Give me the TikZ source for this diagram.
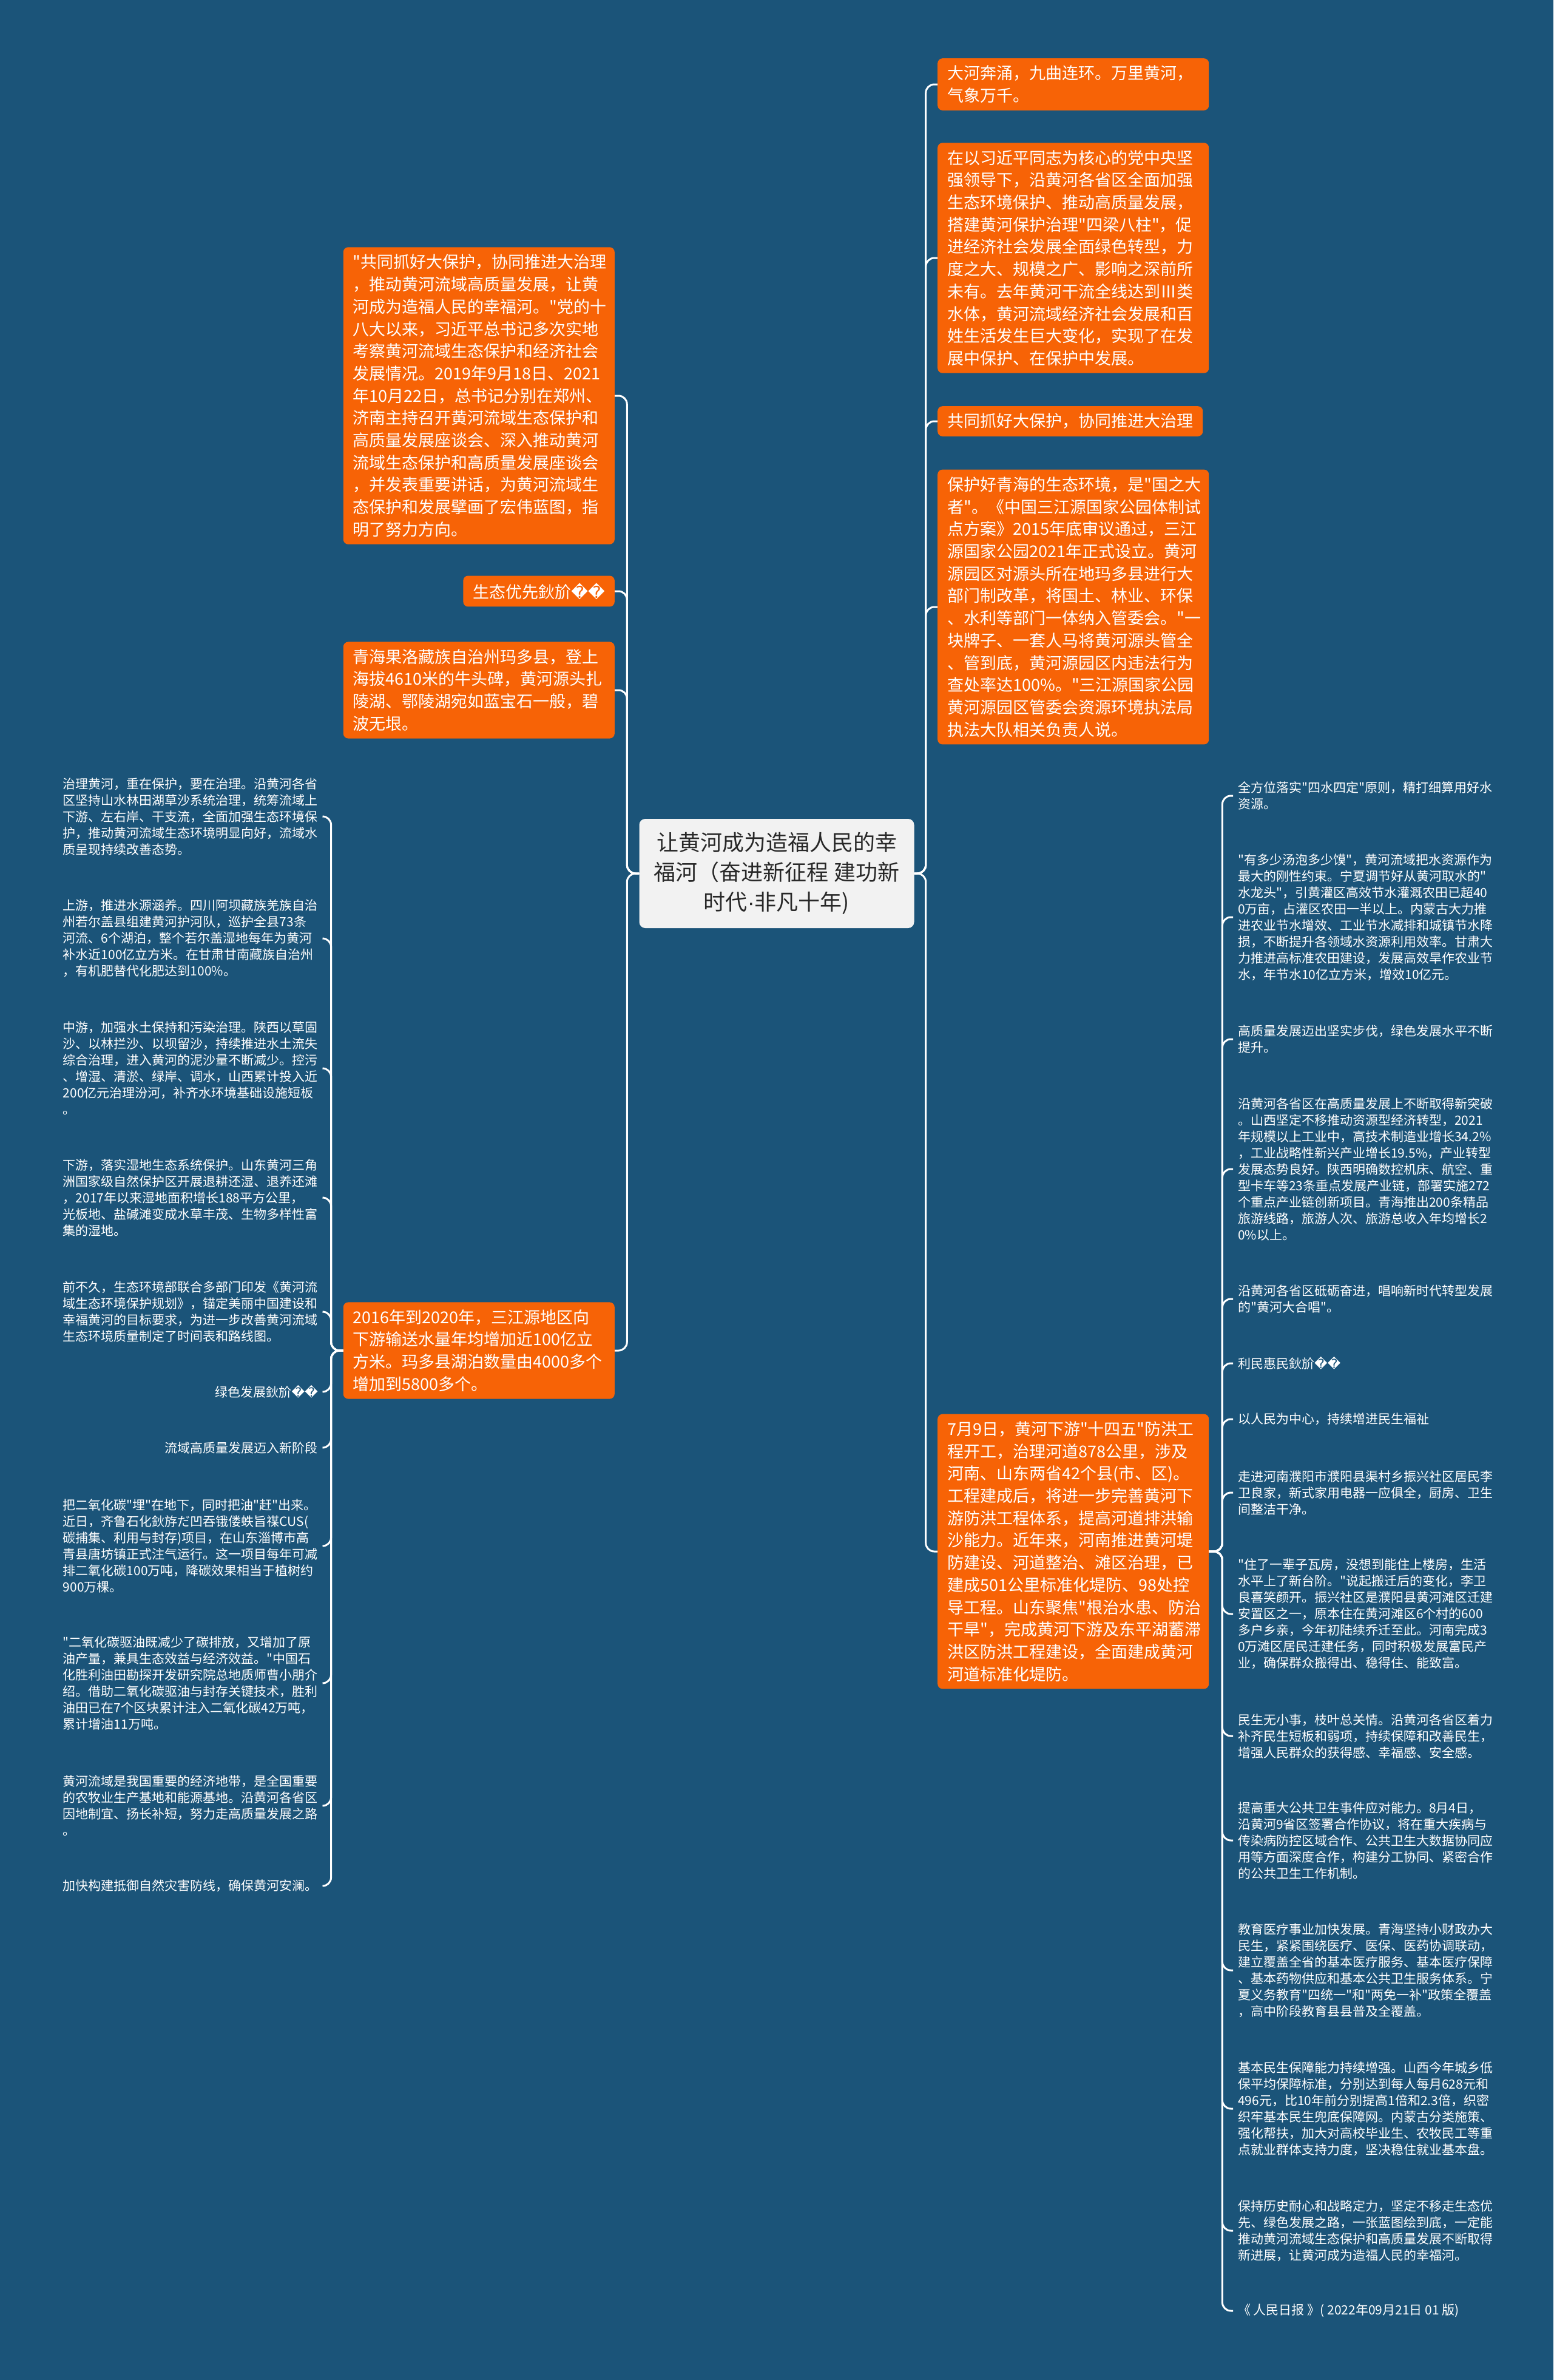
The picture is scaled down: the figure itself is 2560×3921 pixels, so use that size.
\documentclass[tikz,border=0pt]{standalone}
\usepackage{fontspec}
\setmainfont{Noto Sans CJK SC}[Ligatures=TeXOff]
\newfontfamily\dvsymfont{DejaVu Sans}
\newfontfamily\latfont{Liberation Sans}
\newcommand\rpc{{\dvsymfont\char"FFFD}}
\newcommand\mdot{{\latfont\char"00B7}}
\definecolor{bgc}{RGB}{27,84,121}
\definecolor{orc}{RGB}{247,99,6}
\definecolor{cenc}{RGB}{242,242,242}
\definecolor{centext}{RGB}{40,40,40}
\tikzset{
  obox/.style={fill=orc, rounded corners=8, text=white, font=\fontsize{27pt}{36.7pt}\selectfont, inner xsep=16, inner ysep=12, align=left},
  wbox/.style={obox, text width=415},
  cbox/.style={fill=cenc, rounded corners=10, text=centext, font=\fontsize{36pt}{49pt}\selectfont, align=center, minimum width=453, minimum height=180, inner sep=10},
  leaf/.style={text=white, font=\fontsize{21pt}{27pt}\selectfont, align=left, inner xsep=8, inner ysep=3},
  rleaf/.style={leaf, anchor=west},
  lleaf/.style={leaf, anchor=east},
  conn/.style={draw=white, line width=3, rounded corners=14}
}
\begin{document}
\begin{tikzpicture}[x=1pt,y=-1pt]
\fill[bgc] (0,0) rectangle (2560,3921);
\useasboundingbox (0,0) rectangle (2560,3921);

% center
\node[cbox] (C) at (1280,1439) {让黄河成为造福人民的幸\\福河（奋进新征程 建功新\\时代\mdot 非凡十年)};

% right main boxes
\node[wbox, anchor=west] (R1) at (1545,139) {大河奔涌，九曲连环。万里黄河，\\气象万千。};
\node[wbox, anchor=west] (R2) at (1545,425) {在以习近平同志为核心的党中央坚\\强领导下，沿黄河各省区全面加强\\生态环境保护、推动高质量发展，\\搭建黄河保护治理"四梁八柱"，促\\进经济社会发展全面绿色转型，力\\度之大、规模之广、影响之深前所\\未有。去年黄河干流全线达到Ⅲ类\\水体，黄河流域经济社会发展和百\\姓生活发生巨大变化，实现了在发\\展中保护、在保护中发展。};
\node[obox, anchor=west] (R3) at (1545,694) {共同抓好大保护，协同推进大治理};
\node[wbox, anchor=west] (R4) at (1545,1000) {保护好青海的生态环境，是"国之大\\者"。《中国三江源国家公园体制试\\点方案》2015年底审议通过，三江\\源国家公园2021年正式设立。黄河\\源园区对源头所在地玛多县进行大\\部门制改革，将国土、林业、环保\\、水利等部门一体纳入管委会。"一\\块牌子、一套人马将黄河源头管全\\、管到底，黄河源园区内违法行为\\查处率达100\%。"三江源国家公园\\黄河源园区管委会资源环境执法局\\执法大队相关负责人说。};
\node[wbox, anchor=west] (R5) at (1545,2556) {7月9日，黄河下游"十四五"防洪工\\程开工，治理河道878公里，涉及\\河南、山东两省42个县(市、区)。\\工程建成后，将进一步完善黄河下\\游防洪工程体系，提高河道排洪输\\沙能力。近年来，河南推进黄河堤\\防建设、河道整治、滩区治理，已\\建成501公里标准化堤防、98处控\\导工程。山东聚焦"根治水患、防治\\干旱"，完成黄河下游及东平湖蓄滞\\洪区防洪工程建设，全面建成黄河\\河道标准化堤防。};

% left main boxes
\node[wbox, anchor=east] (L1) at (1013,652) {"共同抓好大保护，协同推进大治理\\，推动黄河流域高质量发展，让黄\\河成为造福人民的幸福河。"党的十\\八大以来，习近平总书记多次实地\\考察黄河流域生态保护和经济社会\\发展情况。2019年9月18日、2021\\年10月22日，总书记分别在郑州、\\济南主持召开黄河流域生态保护和\\高质量发展座谈会、深入推动黄河\\流域生态保护和高质量发展座谈会\\，并发表重要讲话，为黄河流域生\\态保护和发展擘画了宏伟蓝图，指\\明了努力方向。};
\node[obox, anchor=east] (L2) at (1013,974) {生态优先鈥斺\rpc\rpc};
\node[wbox, anchor=east] (L3) at (1013,1137) {青海果洛藏族自治州玛多县，登上\\海拔4610米的牛头碑，黄河源头扎\\陵湖、鄂陵湖宛如蓝宝石一般，碧\\波无垠。};
\node[wbox, anchor=east] (L4) at (1013,2225) {2016年到2020年，三江源地区向\\下游输送水量年均增加近100亿立\\方米。玛多县湖泊数量由4000多个\\增加到5800多个。};

% left leaves
\node[lleaf] (a1) at (532,1345) {治理黄河，重在保护，要在治理。沿黄河各省\\区坚持山水林田湖草沙系统治理，统筹流域上\\下游、左右岸、干支流，全面加强生态环境保\\护，推动黄河流域生态环境明显向好，流域水\\质呈现持续改善态势。};
\node[lleaf] (a2) at (532,1546) {上游，推进水源涵养。四川阿坝藏族羌族自治\\州若尔盖县组建黄河护河队，巡护全县73条\\河流、6个湖泊，整个若尔盖湿地每年为黄河\\补水近100亿立方米。在甘肃甘南藏族自治州\\，有机肥替代化肥达到100\%。};
\node[lleaf] (a3) at (532,1760) {中游，加强水土保持和污染治理。陕西以草固\\沙、以林拦沙、以坝留沙，持续推进水土流失\\综合治理，进入黄河的泥沙量不断减少。控污\\、增湿、清淤、绿岸、调水，山西累计投入近\\200亿元治理汾河，补齐水环境基础设施短板\\。};
\node[lleaf] (a4) at (532,1973) {下游，落实湿地生态系统保护。山东黄河三角\\洲国家级自然保护区开展退耕还湿、退养还滩\\，2017年以来湿地面积增长188平方公里，\\光板地、盐碱滩变成水草丰茂、生物多样性富\\集的湿地。};
\node[lleaf] (a5) at (532,2161) {前不久，生态环境部联合多部门印发《黄河流\\域生态环境保护规划》，锚定美丽中国建设和\\幸福黄河的目标要求，为进一步改善黄河流域\\生态环境质量制定了时间表和路线图。};
\node[lleaf] (a6) at (532,2293) {绿色发展鈥斺\rpc\rpc};
\node[lleaf] (a7) at (532,2385) {流域高质量发展迈入新阶段};
\node[lleaf] (a8) at (532,2547) {把二氧化碳"埋"在地下，同时把油"赶"出来。\\近日，齐鲁石化鈥斿だ凹吞锇偻蛈旨禖CUS(\\碳捕集、利用与封存)项目，在山东淄博市高\\青县唐坊镇正式注气运行。这一项目每年可减\\排二氧化碳100万吨，降碳效果相当于植树约\\900万棵。};
\node[lleaf] (a9) at (532,2773) {"二氧化碳驱油既减少了碳排放，又增加了原\\油产量，兼具生态效益与经济效益。"中国石\\化胜利油田勘探开发研究院总地质师曹小朋介\\绍。借助二氧化碳驱油与封存关键技术，胜利\\油田已在7个区块累计注入二氧化碳42万吨，\\累计增油11万吨。};
\node[lleaf] (a10) at (532,2975) {黄河流域是我国重要的经济地带，是全国重要\\的农牧业生产基地和能源基地。沿黄河各省区\\因地制宜、扬长补短，努力走高质量发展之路\\。};
\node[lleaf] (a11) at (532,3107) {加快构建抵御自然灾害防线，确保黄河安澜。};

% right leaves
\node[rleaf] (b1) at (2032,1311) {全方位落实"四水四定"原则，精打细算用好水\\资源。};
\node[rleaf] (b2) at (2032,1511) {"有多少汤泡多少馍"，黄河流域把水资源作为\\最大的刚性约束。宁夏调节好从黄河取水的"\\水龙头"，引黄灌区高效节水灌溉农田已超40\\0万亩，占灌区农田一半以上。内蒙古大力推\\进农业节水增效、工业节水减排和城镇节水降\\损，不断提升各领域水资源利用效率。甘肃大\\力推进高标准农田建设，发展高效旱作农业节\\水，年节水10亿立方米，增效10亿元。};
\node[rleaf] (b3) at (2032,1712) {高质量发展迈出坚实步伐，绿色发展水平不断\\提升。};
\node[rleaf] (b4) at (2032,1926) {沿黄河各省区在高质量发展上不断取得新突破\\。山西坚定不移推动资源型经济转型，2021\\年规模以上工业中，高技术制造业增长34.2\%\\，工业战略性新兴产业增长19.5\%，产业转型\\发展态势良好。陕西明确数控机床、航空、重\\型卡车等23条重点发展产业链，部署实施272\\个重点产业链创新项目。青海推出200条精品\\旅游线路，旅游人次、旅游总收入年均增长2\\0\%以上。};
\node[rleaf] (b5) at (2032,2140) {沿黄河各省区砥砺奋进，唱响新时代转型发展\\的"黄河大合唱"。};
\node[rleaf] (b6) at (2032,2246) {利民惠民鈥斺\rpc\rpc};
\node[rleaf] (b7) at (2032,2338) {以人民为中心，持续增进民生福祉};
\node[rleaf] (b8) at (2032,2459) {走进河南濮阳市濮阳县渠村乡振兴社区居民李\\卫良家，新式家用电器一应俱全，厨房、卫生\\间整洁干净。};
\node[rleaf] (b9) at (2032,2659) {"住了一辈子瓦房，没想到能住上楼房，生活\\水平上了新台阶。"说起搬迁后的变化，李卫\\良喜笑颜开。振兴社区是濮阳县黄河滩区迁建\\安置区之一，原本住在黄河滩区6个村的600\\多户乡亲，今年初陆续乔迁至此。河南完成3\\0万滩区居民迁建任务，同时积极发展富民产\\业，确保群众搬得出、稳得住、能致富。};
\node[rleaf] (b10) at (2032,2860) {民生无小事，枝叶总关情。沿黄河各省区着力\\补齐民生短板和弱项，持续保障和改善民生，\\增强人民群众的获得感、幸福感、安全感。};
\node[rleaf] (b11) at (2032,3032) {提高重大公共卫生事件应对能力。8月4日，\\沿黄河9省区签署合作协议，将在重大疾病与\\传染病防控区域合作、公共卫生大数据协同应\\用等方面深度合作，构建分工协同、紧密合作\\的公共卫生工作机制。};
\node[rleaf] (b12) at (2032,3246) {教育医疗事业加快发展。青海坚持小财政办大\\民生，紧紧围绕医疗、医保、医药协调联动，\\建立覆盖全省的基本医疗服务、基本医疗保障\\、基本药物供应和基本公共卫生服务体系。宁\\夏义务教育"四统一"和"两免一补"政策全覆盖\\，高中阶段教育县县普及全覆盖。};
\node[rleaf] (b13) at (2032,3474) {基本民生保障能力持续增强。山西今年城乡低\\保平均保障标准，分别达到每人每月628元和\\496元，比10年前分别提高1倍和2.3倍，织密\\织牢基本民生兜底保障网。内蒙古分类施策、\\强化帮扶，加大对高校毕业生、农牧民工等重\\点就业群体支持力度，坚决稳住就业基本盘。};
\node[rleaf] (b14) at (2032,3675) {保持历史耐心和战略定力，坚定不移走生态优\\先、绿色发展之路，一张蓝图绘到底，一定能\\推动黄河流域生态保护和高质量发展不断取得\\新进展，让黄河成为造福人民的幸福河。};
\node[rleaf] (b15) at (2032,3807) {《 人民日报 》( 2022年09月21日 01 版)};

% connectors: center to main boxes
\foreach \n in {R1,R2,R3,R4,R5}
  \draw[conn] (C.east) -- ++(19,0) |- (\n.west);
\foreach \n in {L1,L2,L3,L4}
  \draw[conn] (C.west) -- ++(-20,0) |- (\n.east);
% R5 to right leaves
\foreach \n in {b1,b2,b3,b4,b5,b6,b7,b8,b9,b10,b11,b12,b13,b14,b15}
  \draw[conn] (R5.east) -- ++(22,0) |- (\n.west);
% L4 to left leaves
\foreach \n in {a1,a2,a3,a4,a5,a6,a7,a8,a9,a10,a11}
  \draw[conn] (L4.west) -- ++(-20,0) |- (\n.east);
\end{tikzpicture}
\end{document}
